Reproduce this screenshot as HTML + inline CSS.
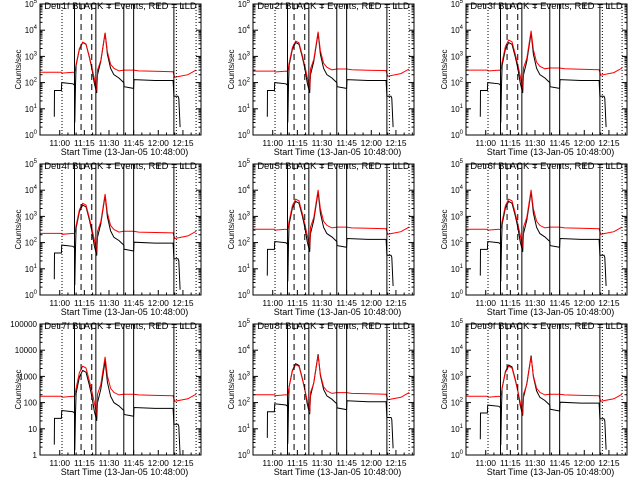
<!DOCTYPE html>
<html><head><meta charset="utf-8"><style>
body{margin:0;background:#fff;width:640px;height:480px;overflow:hidden}
svg{display:block;font-family:"Liberation Sans",sans-serif}
</style></head><body>
<svg id="s" width="640" height="480"></svg>
<script>
const detectors=["1f","2f","3f","4f","5f","6f","7f","8f","9f"];
const redT=[0,13,13.5,20,21,22,24,26,28,30,31.5,33,34.5,35,37,39.6,41,43,45,48,51,57,60,70,81,82,90,95];
const redV=[250,250,230,250,240,500,2000,3500,3000,1000,400,150,50,300,700,8000,1500,500,350,280,300,300,280,270,260,160,200,300];
const blackT=[8.7,8.8,9,13,13.2,20,21,21.2,21.6,22,24,26,28,30,31.5,33,34.5,35,37,39.6,41,43,45,48,51,51.2,57,57.2,70,81,81.5,84,84.5,85.3];
const blackV=[5,50,50,50,100,90,80,3,80,450,1900,3400,2900,950,350,100,40,200,650,7800,1200,350,200,150,100,70,60,130,120,120,30,30,25,2];
const redScale=[1,1.1,1.2,0.9,1.3,1.3,0.7,0.8,0.7];
const blackScale=[1,1,1,0.8,1.1,1.1,0.5,0.9,0.8];
const xTickLabels=["11:00","11:15","11:30","11:45","12:00","12:15"];
const xTickMin=[12,27,42,57,72,87];
const solidLines=[21,34,51,57,81.5];
const dashedLines=[25,31.5];
const dottedLines=[13.4,83,95];
const NS="http://www.w3.org/2000/svg";
const s=document.getElementById('s');
function el(t,a,p){const e=document.createElementNS(NS,t);for(const k in a)e.setAttribute(k,a[k]);(p||s).appendChild(e);return e;}
for(let i=0;i<9;i++){
 const ox=(i%3)*213, oy=Math.floor(i/3)*160;
 const L=ox+40,R=ox+201,T=oy+4,B=oy+135;
 const g=el('g',{});
 
 
 const xs=m=>L+m*(R-L)/98;
 const ys=v=>B-Math.log10(Math.max(v,1))/5*(B-T);
 const mk=(T_,V_,sc,col,name)=>{let d='';for(let k=0;k<T_.length;k++){d+=(k?'L':'M')+xs(T_[k]).toFixed(1)+','+ys(V_[k]*sc).toFixed(1);}
  const p=el('path',{d:d,fill:'none',stroke:col,'stroke-width':1},g);
  };
 mk(blackT,blackV,blackScale[i],'#000','events-series');
 mk(redT,redV,redScale[i],'#f00','lld-series');
 const vl=(arr,dash,name)=>arr.forEach(m=>{const l=el('line',{x1:xs(m),x2:xs(m),y1:T,y2:B,stroke:'#000','stroke-width':1,'stroke-dasharray':dash},g);
  });
 vl(solidLines,'none','interval-line');vl(dashedLines,'6,4','peak-interval-line');vl(dottedLines,'1,2','boundary-line');
 const bx=el('rect',{x:L,y:T,width:R-L,height:B-T,fill:'none',stroke:'#000'},g);
 
 for(let d=0;d<=5;d++){const y=ys(Math.pow(10,d));
  el('line',{x1:L,x2:L+5,y1:y,y2:y,stroke:'#000'},g);el('line',{x1:R,x2:R-5,y1:y,y2:y,stroke:'#000'},g);
  if(d<5)for(let k=2;k<10;k++){const yy=ys(k*Math.pow(10,d));el('line',{x1:L,x2:L+2.5,y1:yy,y2:yy,stroke:'#000'},g);el('line',{x1:R,x2:R-2.5,y1:yy,y2:yy,stroke:'#000'},g);}
  const t=el('text',{x:L-3,y:y+3,'text-anchor':'end','font-size':8},g);
  
  if(i==6){t.textContent=String(Math.pow(10,d));}
  else{t.textContent='10';const sp=el('tspan',{dy:-4,'font-size':6},t);sp.textContent=String(d);}
 }
 xTickMin.forEach((m,k)=>{const x=xs(m);el('line',{x1:x,x2:x,y1:B,y2:B-5,stroke:'#000'},g);el('line',{x1:x,x2:x,y1:T,y2:T+5,stroke:'#000'},g);
  for(let j=1;j<3;j++){const xx=xs(m+5*j);if(xx<R){el('line',{x1:xx,x2:xx,y1:B,y2:B-2.5,stroke:'#000'},g);}}
  const t=el('text',{x:x,y:B+11,'text-anchor':'middle','font-size':8.5},g);t.textContent=xTickLabels[k];
  });
 const ti=el('text',{x:(L+R)/2,y:oy+9,'text-anchor':'middle','font-size':9.5},g);ti.textContent='Det '+detectors[i]+' BLACK = Events, RED = LLD';
 
 const xt=el('text',{x:(L+R)/2+4,y:oy+155,'text-anchor':'middle','font-size':9},g);xt.textContent='Start Time (13-Jan-05 10:48:00)';
 
 const yt=el('text',{x:0,y:0,'text-anchor':'middle','font-size':8,transform:'translate('+(ox+21)+','+((T+B)/2)+') rotate(-90)'},g);yt.textContent='Counts/sec';
 
}
</script>
</body></html>
